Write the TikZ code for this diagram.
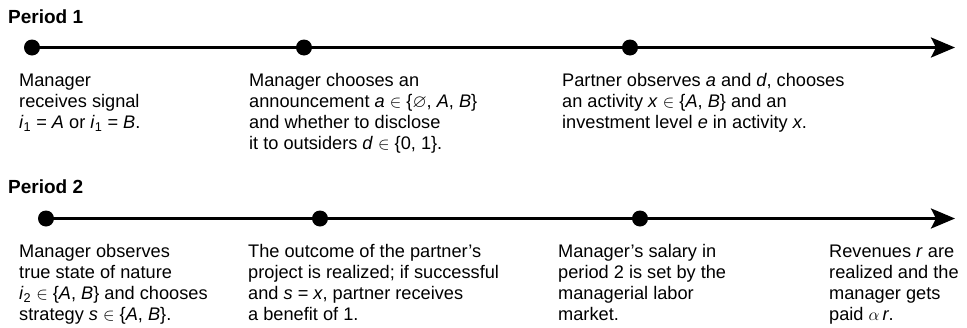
\documentclass[tikz,border=0pt]{standalone}
\usepackage{amssymb}
\usepackage{fontspec}
\setmainfont{Liberation Sans}
\usetikzlibrary{arrows.meta}

\tikzset{
  period/.style={anchor=north west, inner sep=0pt, font=\fontsize{19}{21}\selectfont\bfseries},
  event/.style={anchor=north west, inner sep=0pt, align=left, font=\fontsize{18.2}{21}\selectfont},
  dot/.style={circle, fill=black, inner sep=0pt, minimum size=16pt},
  timeline/.style={line width=3pt, -{Stealth[length=24pt, width=20pt, inset=5pt]}},
}

\begin{document}
\begin{tikzpicture}[x=1pt, y=-1pt]
\useasboundingbox (0,0) rectangle (967,327);

% Period 1
\node[period] (p1) at (8,23.3-14.7) {\strut Period 1};
\node[dot] (a1) at (32,47.5) {};
\node[dot] (a2) at (304,47.5) {};
\node[dot] (a3) at (630,47.5) {};
\coordinate (end1) at (955,47.5);
\draw[timeline] (a1.center) -- (end1);

\node[event] (t1) at (19,86-14.7) {\strut Manager\\receives signal\\\textit{i}\textsubscript{1} = \textit{A} or \textit{i}\textsubscript{1} = \textit{B}.};
\node[event] (t2) at (249,86-14.7) {\strut Manager chooses an\\announcement \textit{a} $\in$ \{$\varnothing$, \textit{A}, \textit{B}\}\\and whether to disclose\\it to outsiders \textit{d} $\in$ \{0, 1\}.};
\node[event] (t3) at (562,86-14.7) {\strut Partner observes \textit{a} and \textit{d}, chooses\\an activity \textit{x} $\in$ \{\textit{A}, \textit{B}\} and an\\investment level \textit{e} in activity \textit{x}.};

% Period 2
\node[period] (p2) at (8,193.3-14.7) {\strut Period 2};
\node[dot] (b1) at (46,218.5) {};
\node[dot] (b2) at (320,218.5) {};
\node[dot] (b3) at (640,218.5) {};
\coordinate (end2) at (955,218.5);
\draw[timeline] (b1.center) -- (end2);

\node[event] (u1) at (19,257-14.7) {\strut Manager observes\\true state of nature\\\textit{i}\textsubscript{2} $\in$ \{\textit{A}, \textit{B}\} and chooses\\strategy \textit{s} $\in$ \{\textit{A}, \textit{B}\}.};
\node[event] (u2) at (248,257-14.7) {\strut The outcome of the partner’s\\project is realized; if successful\\and \textit{s} = \textit{x}, partner receives\\a benefit of 1.};
\node[event] (u3) at (558,257-14.7) {\strut Manager’s salary in\\period 2 is set by the\\managerial labor\\market.};
\node[event] (u4) at (829,257-14.7) {\strut Revenues \textit{r} are\\realized and the\\manager gets\\paid $\alpha$\,\textit{r}.};
\end{tikzpicture}
\end{document}
